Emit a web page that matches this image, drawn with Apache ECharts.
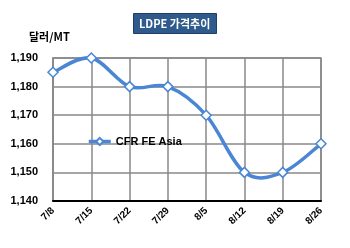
<!DOCTYPE html>
<html>
<head>
<meta charset="utf-8">
<script src="https://cdn.jsdelivr.net/npm/echarts@6/dist/echarts.min.js"></script>
<style>
html, body { margin: 0; padding: 0; background: #fff; }
#main { width: 350px; height: 248px; }
</style>
</head>
<body>
<div id="main"></div>
<script>
var dates = ["7/8", "7/15", "7/22", "7/29", "8/5", "8/12", "8/19", "8/26"];
var prices = [1185, 1190, 1180, 1180, 1170, 1150, 1150, 1160];
var seriesName = "CFR FE Asia";
var lineColor = "#4a86d4";

// Excel-like smoothed curve (catmull-rom) through the data points
function renderCurve(params, api) {
  if (params.dataIndex !== 0) return null;
  var pts = prices.map(function (v, i) { return api.coord([i, v]); });
  var n = pts.length;
  var d = "M" + pts[0][0] + " " + pts[0][1];
  for (var i = 0; i < n - 1; i++) {
    var p0 = pts[Math.max(i - 1, 0)];
    var p1 = pts[i];
    var p2 = pts[i + 1];
    var p3 = pts[Math.min(i + 2, n - 1)];
    var c1x = p1[0] + (p2[0] - p0[0]) / 6, c1y = p1[1] + (p2[1] - p0[1]) / 6;
    var c2x = p2[0] - (p3[0] - p1[0]) / 6, c2y = p2[1] - (p3[1] - p1[1]) / 6;
    d += " C" + c1x + " " + c1y + " " + c2x + " " + c2y + " " + p2[0] + " " + p2[1];
  }
  return {
    type: "path",
    shape: { pathData: d },
    style: { fill: null, stroke: lineColor, lineWidth: 3.5 }
  };
}

var myChart = echarts.init(document.getElementById("main"));
var option = {
  animation: false,
  textStyle: { fontFamily: "Arial, Liberation Sans, sans-serif" },
  title: [
    {
      text: "LDPE 가격추이",
      left: 133,
      top: 13,
      padding: [5, 6, 5, 6],
      backgroundColor: "#2f5b8c",
      borderColor: "#1f3f66",
      borderWidth: 1,
      textStyle: {
        color: "#fff",
        fontSize: 11,
        fontWeight: "bold",
        fontFamily: "Noto Sans CJK KR, sans-serif"
      }
    },
    {
      text: "달러/MT",
      left: 24,
      top: 26,
      textStyle: {
        color: "#000",
        fontSize: 11,
        fontWeight: "bold",
        fontFamily: "Noto Sans CJK KR, sans-serif"
      }
    }
  ],
  legend: {
    data: [{
      name: seriesName,
      lineStyle: { color: lineColor, width: 3.5, opacity: 1 }
    }],
    left: 82,
    top: 131,
    itemWidth: 22,
    itemHeight: 9,
    itemGap: 2,
    textStyle: { fontSize: 11, fontWeight: "bold", color: "#000" }
  },
  grid: { left: 53, right: 29, top: 58, bottom: 47, show: true, borderColor: "#888", borderWidth: 1.5 },
  xAxis: {
    type: "category",
    data: dates,
    boundaryGap: false,
    axisLine: { lineStyle: { color: "#000", width: 2 } },
    axisTick: { show: false },
    axisLabel: { rotate: 45, fontSize: 10, fontWeight: "bold", color: "#000", margin: 8 },
    splitLine: { show: true, lineStyle: { color: "#888", width: 1.5 } }
  },
  yAxis: {
    type: "value",
    min: 1140,
    max: 1190,
    interval: 10,
    axisLine: { show: true, lineStyle: { color: "#888", width: 1.5 } },
    axisTick: { show: false },
    axisLabel: {
      fontSize: 11,
      fontWeight: "bold",
      color: "#000",
      margin: 15,
      formatter: function (v) { return v.toLocaleString("en-US"); }
    },
    splitLine: { lineStyle: { color: "#888", width: 1.5 } }
  },
  series: [
    {
      name: "curve",
      type: "custom",
      data: prices.map(function (v, i) { return [i, v]; }),
      renderItem: renderCurve,
      silent: true,
      z: 2
    },
    {
      name: seriesName,
      type: "line",
      data: prices,
      symbol: "diamond",
      symbolSize: 10,
      lineStyle: { color: lineColor, width: 3.5, opacity: 0 },
      itemStyle: { color: "#fff", borderColor: lineColor, borderWidth: 1.5 },
      z: 3
    }
  ]
};
myChart.setOption(option);
</script>
</body>
</html>
